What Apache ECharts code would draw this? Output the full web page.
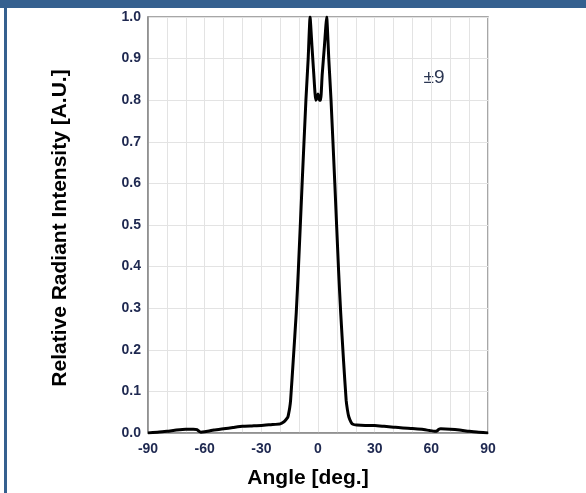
<!DOCTYPE html>
<html><head><meta charset="utf-8">
<script src="https://cdn.jsdelivr.net/npm/echarts@6/dist/echarts.min.js"></script>
<style>html,body{margin:0;padding:0;background:#fff}#c{width:586px;height:493px}</style>
</head><body><div id="c"></div>
<script>
var angles = [-90,-85,-80,-75,-70,-66,-64,-63,-62,-60,-55,-50,-45,-40,-35,-30,-25,-20,-18,-17,-16,-15.7,-15,-14.5,-13.1,-11.5,-10.4,-8.4,-6.4,-5.2,-4.2,-3.2,-2.2,-1.2,-0.6,0,0.3,0.8,1.4,2.2,3.4,4.6,5.7,6.9,8.9,10.9,12.0,13.5,14.9,15.6,16.3,17.5,18.5,20.5,25,30,35,40,45,50,55,59,62,63,64,65,70,75,80,85,90];
var intensity = [0,0.002,0.004,0.007,0.009,0.009,0.008,0.004,0.002,0.003,0.007,0.010,0.013,0.016,0.017,0.018,0.020,0.022,0.027,0.032,0.038,0.043,0.060,0.079,0.175,0.29,0.392,0.60,0.80,0.90,1.0,0.93,0.86,0.80,0.805,0.815,0.81,0.80,0.80,0.86,0.93,1.0,0.90,0.80,0.60,0.39,0.29,0.175,0.079,0.055,0.039,0.026,0.021,0.019,0.018,0.018,0.016,0.014,0.012,0.011,0.009,0.006,0.004,0.005,0.009,0.010,0.009,0.007,0.004,0.002,0];
var xTicks = [-90,-60,-30,0,30,60,90];
var yTicks = [0,0.1,0.2,0.3,0.4,0.5,0.6,0.7,0.8,0.9,1.0];
var pts = angles.map(function(a,i){return [a,intensity[i]];});
var chart = echarts.init(document.getElementById('c'));
chart.setOption({
  animation:false,
  grid:{left:148,right:98,top:17,bottom:60,show:true,borderColor:'#8a8a8a',borderWidth:1.5},
  xAxis:{type:'value',min:-90,max:90,interval:10,
    axisLine:{show:true,onZero:false,lineStyle:{color:'#8a8a8a',width:1.5}},axisTick:{show:false},
    splitLine:{show:true,lineStyle:{color:'#e3e3e3',width:1}},
    axisLabel:{margin:9,fontFamily:'Liberation Sans, Arial',fontWeight:'bold',fontSize:14,color:'#1e2850',
      formatter:function(v){return xTicks.indexOf(v)>=0?String(v):'';}}},
  yAxis:{type:'value',min:0,max:1,interval:0.1,
    axisLine:{show:true,onZero:false,lineStyle:{color:'#8a8a8a',width:1.5}},axisTick:{show:false},
    splitLine:{show:true,lineStyle:{color:'#e3e3e3',width:1}},
    axisLabel:{margin:7,fontFamily:'Liberation Sans, Arial',fontWeight:'bold',fontSize:14,color:'#1e2850',
      formatter:function(v){return v.toFixed(1);}}},
  series:[{type:'line',data:pts,showSymbol:false,smooth:0.15,lineStyle:{color:'#000',width:3},z:5}],
  graphic:[
    {type:'rect',shape:{x:0,y:0,width:586,height:8},style:{fill:'#35608f'},z:100},
    {type:'rect',shape:{x:4,y:0,width:3,height:493},style:{fill:'#35608f'},z:100},
    {type:'text',x:308,y:478,style:{text:'Angle [deg.]',font:'bold 21px Liberation Sans, Arial',fill:'#000',textAlign:'center',textVerticalAlign:'middle'}},
    {type:'text',x:60,y:228,rotation:Math.PI/2,style:{text:'Relative Radiant Intensity [A.U.]',font:'bold 21px Liberation Sans, Arial',fill:'#000',textAlign:'center',textVerticalAlign:'middle'}},
    {type:'text',x:434,y:78,style:{text:'±9',font:'19px Liberation Sans, Arial',fill:'#2b3652',textAlign:'center',textVerticalAlign:'middle'}}
  ]
});
</script></body></html>
